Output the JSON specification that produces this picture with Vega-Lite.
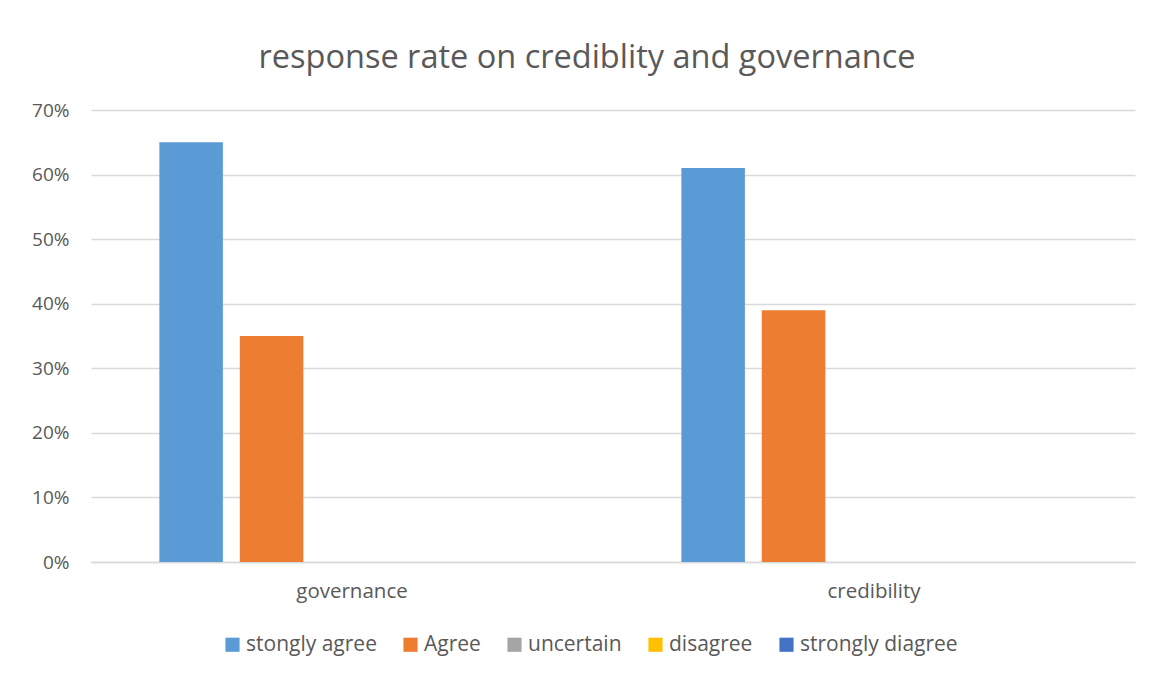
{
  "$schema": "https://vega.github.io/schema/vega-lite/v6.json",
  "width": 1044,
  "height": 452,
  "autosize": {"type": "none"},
  "padding": {"left": 91, "top": 110, "right": 20, "bottom": 116},
  "background": "white",
  "title": {
    "text": "response rate on crediblity and governance",
    "font": "Open Sans",
    "fontSize": 32.5,
    "fontWeight": "normal",
    "color": "#595959",
    "anchor": "middle",
    "dx": -26,
    "offset": 27
  },
  "data": {
    "values": [
      {"category": "governance", "response": "stongly agree", "rate": 0.65},
      {"category": "governance", "response": "Agree", "rate": 0.35},
      {"category": "governance", "response": "uncertain", "rate": 0},
      {"category": "governance", "response": "disagree", "rate": 0},
      {"category": "governance", "response": "strongly diagree", "rate": 0},
      {"category": "credibility", "response": "stongly agree", "rate": 0.61},
      {"category": "credibility", "response": "Agree", "rate": 0.39},
      {"category": "credibility", "response": "uncertain", "rate": 0},
      {"category": "credibility", "response": "disagree", "rate": 0},
      {"category": "credibility", "response": "strongly diagree", "rate": 0}
    ]
  },
  "mark": {"type": "bar"},
  "encoding": {
    "x": {
      "field": "category",
      "type": "nominal",
      "sort": ["governance", "credibility"],
      "scale": {"paddingInner": 0, "paddingOuter": 0},
      "axis": {
        "title": null,
        "labelAngle": 0,
        "labelFont": "Open Sans",
        "labelFontSize": 20.5,
        "labelColor": "#595959",
        "labelPadding": 19,
        "ticks": false,
        "domainColor": "#D9D9D9",
        "domainWidth": 1.5
      }
    },
    "xOffset": {
      "field": "response",
      "type": "nominal",
      "sort": ["stongly agree", "Agree", "uncertain", "disagree", "strongly diagree"],
      "scale": {"paddingInner": 0.21, "paddingOuter": 0.85}
    },
    "y": {
      "field": "rate",
      "type": "quantitative",
      "scale": {"domain": [0, 0.7]},
      "axis": {
        "title": null,
        "values": [0, 0.1, 0.2, 0.3, 0.4, 0.5, 0.6, 0.7],
        "format": ".0%",
        "labelFont": "Open Sans",
        "labelFontSize": 19,
        "labelColor": "#595959",
        "labelPadding": 22,
        "ticks": false,
        "domain": false,
        "gridColor": "#D9D9D9",
        "gridWidth": 1.3
      }
    },
    "color": {
      "field": "response",
      "type": "nominal",
      "sort": ["stongly agree", "Agree", "uncertain", "disagree", "strongly diagree"],
      "scale": {
        "domain": ["stongly agree", "Agree", "uncertain", "disagree", "strongly diagree"],
        "range": ["#5B9BD5", "#ED7D31", "#A5A5A5", "#FFC000", "#4472C4"]
      },
      "legend": {
        "title": null,
        "orient": "none",
        "direction": "horizontal",
        "legendX": 131,
        "legendY": 524,
        "symbolType": "square",
        "symbolSize": 200,
        "symbolStrokeWidth": 0,
        "labelFont": "Open Sans",
        "labelFontSize": 21,
        "labelColor": "#595959",
        "labelOffset": 3,
        "columnPadding": 23,
        "labelLimit": 300
      }
    }
  },
  "config": {
    "view": {"stroke": null}
  }
}
